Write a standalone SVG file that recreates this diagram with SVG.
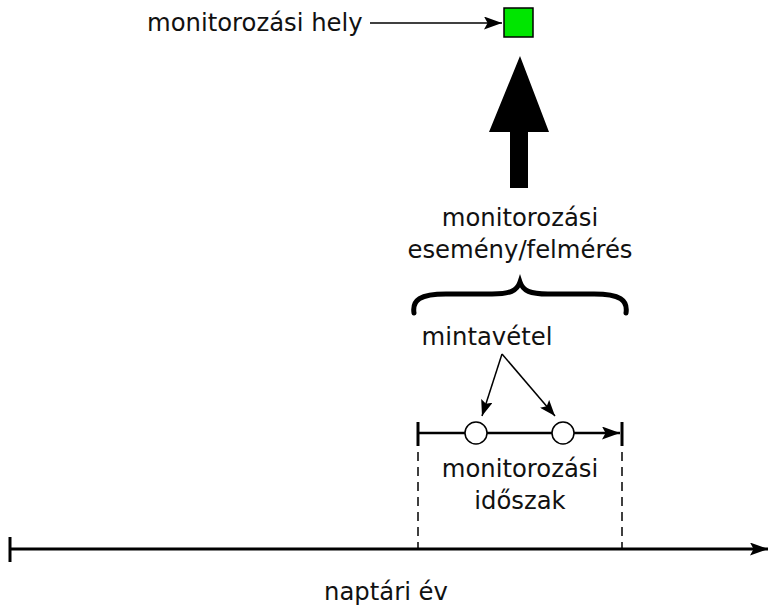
<svg xmlns="http://www.w3.org/2000/svg" width="769" height="609" viewBox="0 0 769 609">
<style>
text{font-family:"DejaVu Sans","Liberation Sans",sans-serif;font-size:24.3px;fill:#111}
.c{text-anchor:middle}
.thin{stroke:#000;stroke-width:1.5;fill:none}
</style>
<defs>
<marker id="ah2" viewBox="0 0 10 10" refX="10" refY="5" markerWidth="18" markerHeight="13" preserveAspectRatio="none" markerUnits="userSpaceOnUse" orient="auto"><path d="M0,0 L10,5 L0,10 L2,5 z" fill="#000"/></marker>
<marker id="ah3" viewBox="0 0 10 10" refX="10" refY="5" markerWidth="16" markerHeight="12" preserveAspectRatio="none" markerUnits="userSpaceOnUse" orient="auto"><path d="M0,0 L10,5 L0,10 L2,5 z" fill="#000"/></marker>
</defs>
<g id="site">
<rect x="504" y="8" width="29" height="29" fill="#00e600" stroke="#000" stroke-width="1.5"/>
<text x="147" y="31">monitorozási hely</text>
</g>
<g id="event">
<path d="M520,56 L549,132 L528,132 L528,188 L510,188 L510,132 L489,132 Z" fill="#000"/>
<text class="c" x="520" y="226">monitorozási</text>
<text class="c" x="520" y="258">esemény/felmérés</text>
<path d="M414,313 C412,300 420,294 446,294 L492,294 C510,294 517,291 520,282 C523,291 530,294 548,294 L594,294 C620,294 628,300 626,313" fill="none" stroke="#000" stroke-width="5" stroke-linecap="round"/>
</g>
<g id="sampling">
<text class="c" x="487" y="345">mintavétel</text>
</g>
<g id="period">
<line x1="418" y1="422" x2="418" y2="446" stroke="#000" stroke-width="3"/>
<line x1="622" y1="422" x2="622" y2="446" stroke="#000" stroke-width="3"/>
<text class="c" x="520" y="477">monitorozási</text>
<text class="c" x="520" y="509">időszak</text>
</g>
<g id="year">
<line x1="10" y1="537" x2="10" y2="562" stroke="#000" stroke-width="3"/>
<text class="c" x="386" y="600">naptári év</text>
</g>
<g id="connectors">
<line x1="370" y1="23" x2="502" y2="23" class="thin" marker-end="url(#ah2)"/>
<line x1="502" y1="354" x2="482" y2="416" class="thin" marker-end="url(#ah3)"/>
<line x1="502" y1="354" x2="555" y2="416" class="thin" marker-end="url(#ah3)"/>
<line x1="418" y1="433" x2="620" y2="433" stroke="#000" stroke-width="2.5" marker-end="url(#ah2)"/>
<circle cx="476" cy="433" r="11" fill="#fff" stroke="#000" stroke-width="1.5"/>
<circle cx="563" cy="433" r="11" fill="#fff" stroke="#000" stroke-width="1.5"/>
<line x1="418" y1="452" x2="418" y2="549" stroke="#000" stroke-width="1.5" stroke-dasharray="9,6"/>
<line x1="622" y1="452" x2="622" y2="549" stroke="#000" stroke-width="1.5" stroke-dasharray="9,6"/>
<line x1="10" y1="549" x2="768" y2="549" stroke="#000" stroke-width="3" marker-end="url(#ah2)"/>
</g>
</svg>
